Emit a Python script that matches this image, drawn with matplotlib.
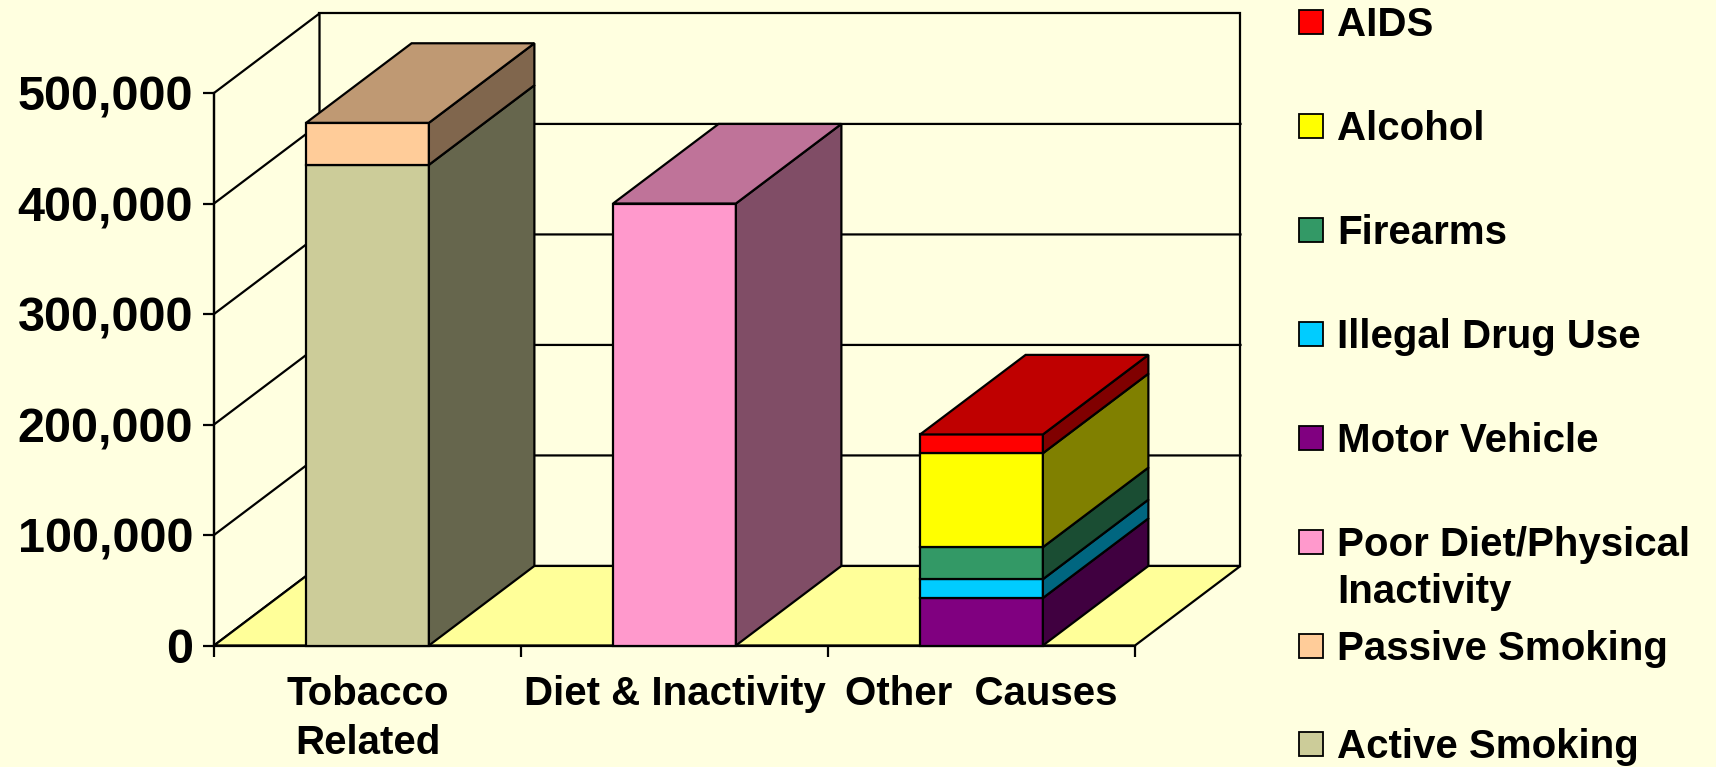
import matplotlib.pyplot as plt
from matplotlib.patches import Polygon, Rectangle
from matplotlib.ticker import FuncFormatter, MultipleLocator, FixedLocator
from matplotlib.colors import to_rgb

plt.rcParams['font.family'] = ['Liberation Sans', 'DejaVu Sans']
plt.rcParams['font.weight'] = 'bold'

categories = ['Tobacco\nRelated', 'Diet & Inactivity', 'Other  Causes']
y_ticks = [0, 100000, 200000, 300000, 400000, 500000]

# stack order, bottom -> top (legend lists them top -> bottom)
series = ['Active Smoking', 'Passive Smoking', 'Poor Diet/Physical\nInactivity',
          'Motor Vehicle', 'Illegal Drug Use', 'Firearms', 'Alcohol', 'AIDS']
colors = ['#CCCC99', '#FFCC99', '#FF99CC', '#800080',
          '#00CCFF', '#339966', '#FFFF00', '#FF0000']

active_smoking = [435000, 0, 0]
passive_smoking = [38000, 0, 0]
poor_diet = [0, 400000, 0]
motor_vehicle = [0, 0, 43000]
illegal_drugs = [0, 0, 17000]
firearms = [0, 0, 29000]
alcohol = [0, 0, 85000]
aids = [0, 0, 17000]
values = [active_smoking, passive_smoking, poor_diet, motor_vehicle,
          illegal_drugs, firearms, alcohol, aids]

BG = '#FFFFE0'
FLOOR = '#FFFF99'
W, H = 1716, 767
DX = 0.3436      # depth shift, in category units
DY = 72000       # depth shift, in value units
BAR_W = 0.4
LW = 1.6


def shade(c, f):
    r, g, b = to_rgb(c)
    return (r * f, g * f, b * f)


def poly(ax, pts, fc, z):
    ax.add_patch(Polygon(pts, closed=True, facecolor=fc, edgecolor='black',
                         linewidth=LW, zorder=z, clip_on=False, joinstyle='miter'))


fig = plt.figure(figsize=(W / 100, H / 100), dpi=100)
fig.patch.set_facecolor(BG)
ax = fig.add_axes([214 / W, (H - 645.5) / H, 921 / W, 552.5 / H])
ax.set_facecolor('none')
n = len(categories)
ax.set_xlim(0, n)
ax.set_ylim(y_ticks[0], y_ticks[-1])
top = y_ticks[-1]

# walls and floor
poly(ax, [(DX, DY), (n + DX, DY), (n + DX, top + DY), (DX, top + DY)], BG, 0.5)
poly(ax, [(0, 0), (DX, DY), (DX, top + DY), (0, top)], BG, 0.5)
poly(ax, [(0, 0), (n, 0), (n + DX, DY), (DX, DY)], FLOOR, 0.6)
for v in y_ticks[1:-1]:
    ax.plot([0, DX, n + DX], [v, v + DY, v + DY], color='black', lw=LW,
            zorder=0.7, clip_on=False, solid_joinstyle='miter')

# stacked 3-D columns
for i in range(n):
    x0 = i + 0.5 - BAR_W / 2
    x1 = x0 + BAR_W
    base = 0
    segs = [(values[k][i], colors[k]) for k in range(len(series)) if values[k][i] > 0]
    for j, (v, c) in enumerate(segs):
        y0, y1 = base, base + v
        z = 3 + i + j * 0.01
        poly(ax, [(x0, y0), (x1, y0), (x1, y1), (x0, y1)], c, z)
        poly(ax, [(x1, y0), (x1 + DX, y0 + DY), (x1 + DX, y1 + DY), (x1, y1)],
             shade(c, 0.5), z)
        if j == len(segs) - 1:
            poly(ax, [(x0, y1), (x1, y1), (x1 + DX, y1 + DY), (x0 + DX, y1 + DY)],
                 shade(c, 0.75), z)
        base = y1

# axes
for s in ['top', 'right']:
    ax.spines[s].set_visible(False)
for s in ['left', 'bottom']:
    ax.spines[s].set_linewidth(LW)
    ax.spines[s].set_zorder(2.5)
ax.yaxis.set_major_locator(FixedLocator(y_ticks))
ax.yaxis.set_major_formatter(FuncFormatter(lambda v, p: f'{int(v):,}'))
ax.tick_params(axis='y', direction='out', length=8, width=LW, pad=7,
               labelsize=35, colors='black')
ax.set_xticks([i + 0.5 for i in range(n)])
ax.set_xticklabels(categories)
ax.xaxis.set_minor_locator(MultipleLocator(1))
ax.tick_params(axis='x', which='major', length=0, pad=21, labelsize=29)
ax.tick_params(axis='x', which='minor', direction='out', length=8, width=LW)
for t in ax.get_xticklabels():
    t.set_linespacing(1.38)
    t.set_fontweight('bold')
for t in ax.get_yticklabels():
    t.set_fontweight('bold')

# legend, drawn by hand
leg_y = [22, 126, 230, 334, 438, 542, 646, 744]
for k, name in enumerate(series[::-1]):
    c = colors[::-1][k]
    cy = leg_y[k]
    fig.add_artist(Rectangle((1299 / W, (H - cy - 12) / H), 24 / W, 24 / H,
                             transform=fig.transFigure, facecolor=c,
                             edgecolor='black', linewidth=1.3))
    for m, line in enumerate(name.split('\n')):
        fig.text(1337 / W, (H - cy - 14.4 - m * 47) / H, line, fontsize=29,
                 fontweight='bold', va='baseline', ha='left', color='black')

fig.savefig('out.png', dpi=100, facecolor=BG)
